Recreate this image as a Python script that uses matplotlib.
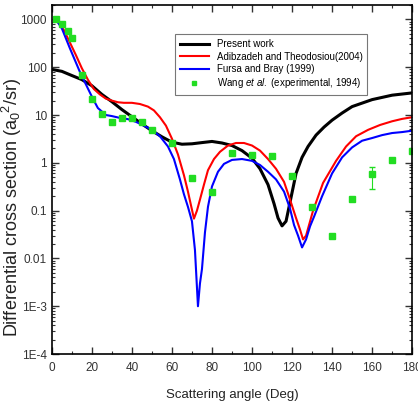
import numpy as np
import matplotlib
matplotlib.use('Agg')
import matplotlib.pyplot as plt
from matplotlib.ticker import FixedLocator, FixedFormatter, LogLocator, MultipleLocator

plt.rcParams['font.family'] = ['Liberation Sans', 'DejaVu Sans']
plt.rcParams['mathtext.fontset'] = 'custom'
plt.rcParams['mathtext.rm'] = 'Liberation Sans'
plt.rcParams['mathtext.it'] = 'Liberation Sans:italic'

# Present work
deg_present = [0, 5, 10, 15, 20, 25, 30, 35, 40, 45, 50, 55, 60, 65, 70, 75, 80, 85, 90, 95,
               100, 104, 108, 111, 113, 115, 117, 119, 122, 125, 128, 132, 136, 140, 145, 150,
               160, 170, 180]
dcs_present = [90, 82, 67, 55, 41, 27, 19, 13, 9.2, 6.5, 4.7, 3.5, 2.7, 2.45, 2.5, 2.65, 2.8, 2.6,
               2.3, 1.8, 1.25, 0.75, 0.35, 0.14, 0.07, 0.048, 0.06, 0.15, 0.6, 1.3, 2.2, 3.8, 5.6,
               7.8, 11, 15, 21, 26, 29]

# Adibzadeh and Theodosiou (2004)
deg_adib = [2, 4, 6, 9, 12, 15, 18, 21, 24, 27, 30, 33, 36, 40, 44, 48, 51, 54, 57, 60, 63, 66,
            68, 69.5, 71, 72.5, 74, 76, 78, 81, 84, 88, 92, 96, 100, 104, 108, 112, 116, 119,
            122, 124, 125.5, 127, 130.5, 135.5, 142, 147, 152, 158, 164, 170, 175, 180]
dcs_adib = [1000, 800, 600, 330, 180, 95, 55, 35, 27, 22, 20, 18.5, 18, 18, 17, 15, 12.5, 9, 6,
            3.2, 1.5, 0.55, 0.25, 0.13, 0.068, 0.1, 0.17, 0.35, 0.7, 1.2, 1.7, 2.3, 2.6, 2.6,
            2.3, 1.8, 1.2, 0.75, 0.4, 0.17, 0.07, 0.04, 0.025, 0.03, 0.1, 0.38, 1.1, 2.2, 3.6,
            4.9, 6.2, 7.4, 8.3, 9]

# Fursa and Bray (1999)
deg_fursa = [2, 5, 9, 14, 18, 20.5, 23, 27, 30, 34, 38, 42, 46, 50, 54, 58, 61, 64, 66, 68, 70,
             71.5, 73, 74, 75, 76.5, 78, 80, 83, 86, 90, 95, 100, 104, 108, 112, 116, 119, 121,
             123, 125, 127, 129, 131, 135, 140, 145, 150, 155, 160, 165, 170, 175, 180]
dcs_fursa = [1000, 650, 250, 80, 36, 22, 14, 10, 9.5, 8.7, 8.2, 7.2, 6, 4.9, 3.6, 2.2, 1.2, 0.45,
             0.22, 0.12, 0.06, 0.015, 0.001, 0.003, 0.006, 0.035, 0.12, 0.32, 0.65, 0.95, 1.15,
             1.2, 1.1, 0.9, 0.65, 0.45, 0.25, 0.11, 0.05, 0.03, 0.017, 0.025, 0.047, 0.075, 0.2,
             0.6, 1.3, 2.1, 2.9, 3.3, 3.8, 4.2, 4.4, 4.7]

# Wang et al. (experimental, 1994)
deg_wang = [2, 5, 8, 10, 15, 20, 25, 30, 35, 40, 45, 50, 60, 70, 80, 90, 100, 110, 120, 130, 140,
            150, 160, 170, 180]
dcs_wang = [1000, 820, 560, 410, 70, 21.5, 10.3, 7, 8.5, 8.7, 7, 4.9, 2.6, 0.49, 0.24, 1.63,
            1.45, 1.4, 0.54, 0.117, 0.029, 0.178, 0.58, 1.12, 1.8]
err_lo = [0, 0, 0, 0, 0, 0, 0, 0, 0, 0, 0, 0, 0, 0, 0, 0, 0, 0, 0, 0, 0, 0, 0.29, 0, 0]
err_hi = [0, 0, 0, 0, 0, 0, 0, 0, 0, 0, 0, 0, 0, 0, 0, 0, 0, 0, 0, 0, 0, 0, 0.23, 0, 0]

ytick_vals = [1e-4, 1e-3, 1e-2, 1e-1, 1, 10, 100, 1000]
ytick_labels = ['1E-4', '1E-3', '0.01', '0.1', '1', '10', '100', '1000']

verde = '#22dd22'

fig = plt.figure(figsize=(4.18, 4.18), dpi=100)
ax = fig.add_axes([0.124, 0.153, 0.862, 0.835])

ax.plot(deg_present, dcs_present, color='black', lw=2.2, label='Present work')
ax.plot(deg_adib, dcs_adib, color='#ff0000', lw=1.5, label='Adibzadeh and Theodosiou(2004)')
ax.plot(deg_fursa, dcs_fursa, color='#0000ff', lw=1.5, label='Fursa and Bray (1999)')
# barras de error y luego los puntos
ax.errorbar(deg_wang, dcs_wang, yerr=[err_lo, err_hi], fmt='none', ecolor=verde,
            elinewidth=0.8, capsize=2)
ax.plot(deg_wang, dcs_wang, 's', color=verde, ms=5, mec=verde, lw=0,
        label='Wang $\\it{et\\ al.}$ (experimental, 1994)')

ax.set_yscale('log')
ax.set_xlim(0, 180)
ax.set_ylim(1e-4, 2000)
ax.xaxis.set_major_locator(MultipleLocator(20))
ax.xaxis.set_minor_locator(MultipleLocator(10))
ax.yaxis.set_major_locator(FixedLocator(ytick_vals))
ax.yaxis.set_major_formatter(FixedFormatter(ytick_labels))
ax.yaxis.set_minor_locator(LogLocator(base=10, subs=np.arange(2, 10)))
ax.tick_params(which='both', direction='in', top=True, right=True, labelsize=8.5, colors='#333333')
ax.tick_params(which='major', length=5, width=1)
ax.tick_params(which='minor', length=2.5, width=0.8)
ax.tick_params(axis='x', pad=6)
ax.tick_params(axis='y', which='minor', labelleft=False)
for s in ax.spines.values():
    s.set_linewidth(1.2)

ax.set_xlabel('Scattering angle (Deg)', fontsize=9.5, color='#222222')
ax.xaxis.set_label_coords(0.5, -0.10)
ax.set_ylabel('Differential cross section (a$_0$$^2$/sr)', fontsize=13, color='#222222')
ax.yaxis.set_label_coords(-0.078, 0.42)

leg = ax.legend(loc='upper left', bbox_to_anchor=(0.328, 0.93), fontsize=7, frameon=True,
                fancybox=False, edgecolor='#555555', handlelength=3, borderpad=0.5,
                labelspacing=0.25, markerscale=0.5)
leg.get_frame().set_linewidth(0.8)

plt.savefig('out.png', dpi=100)
